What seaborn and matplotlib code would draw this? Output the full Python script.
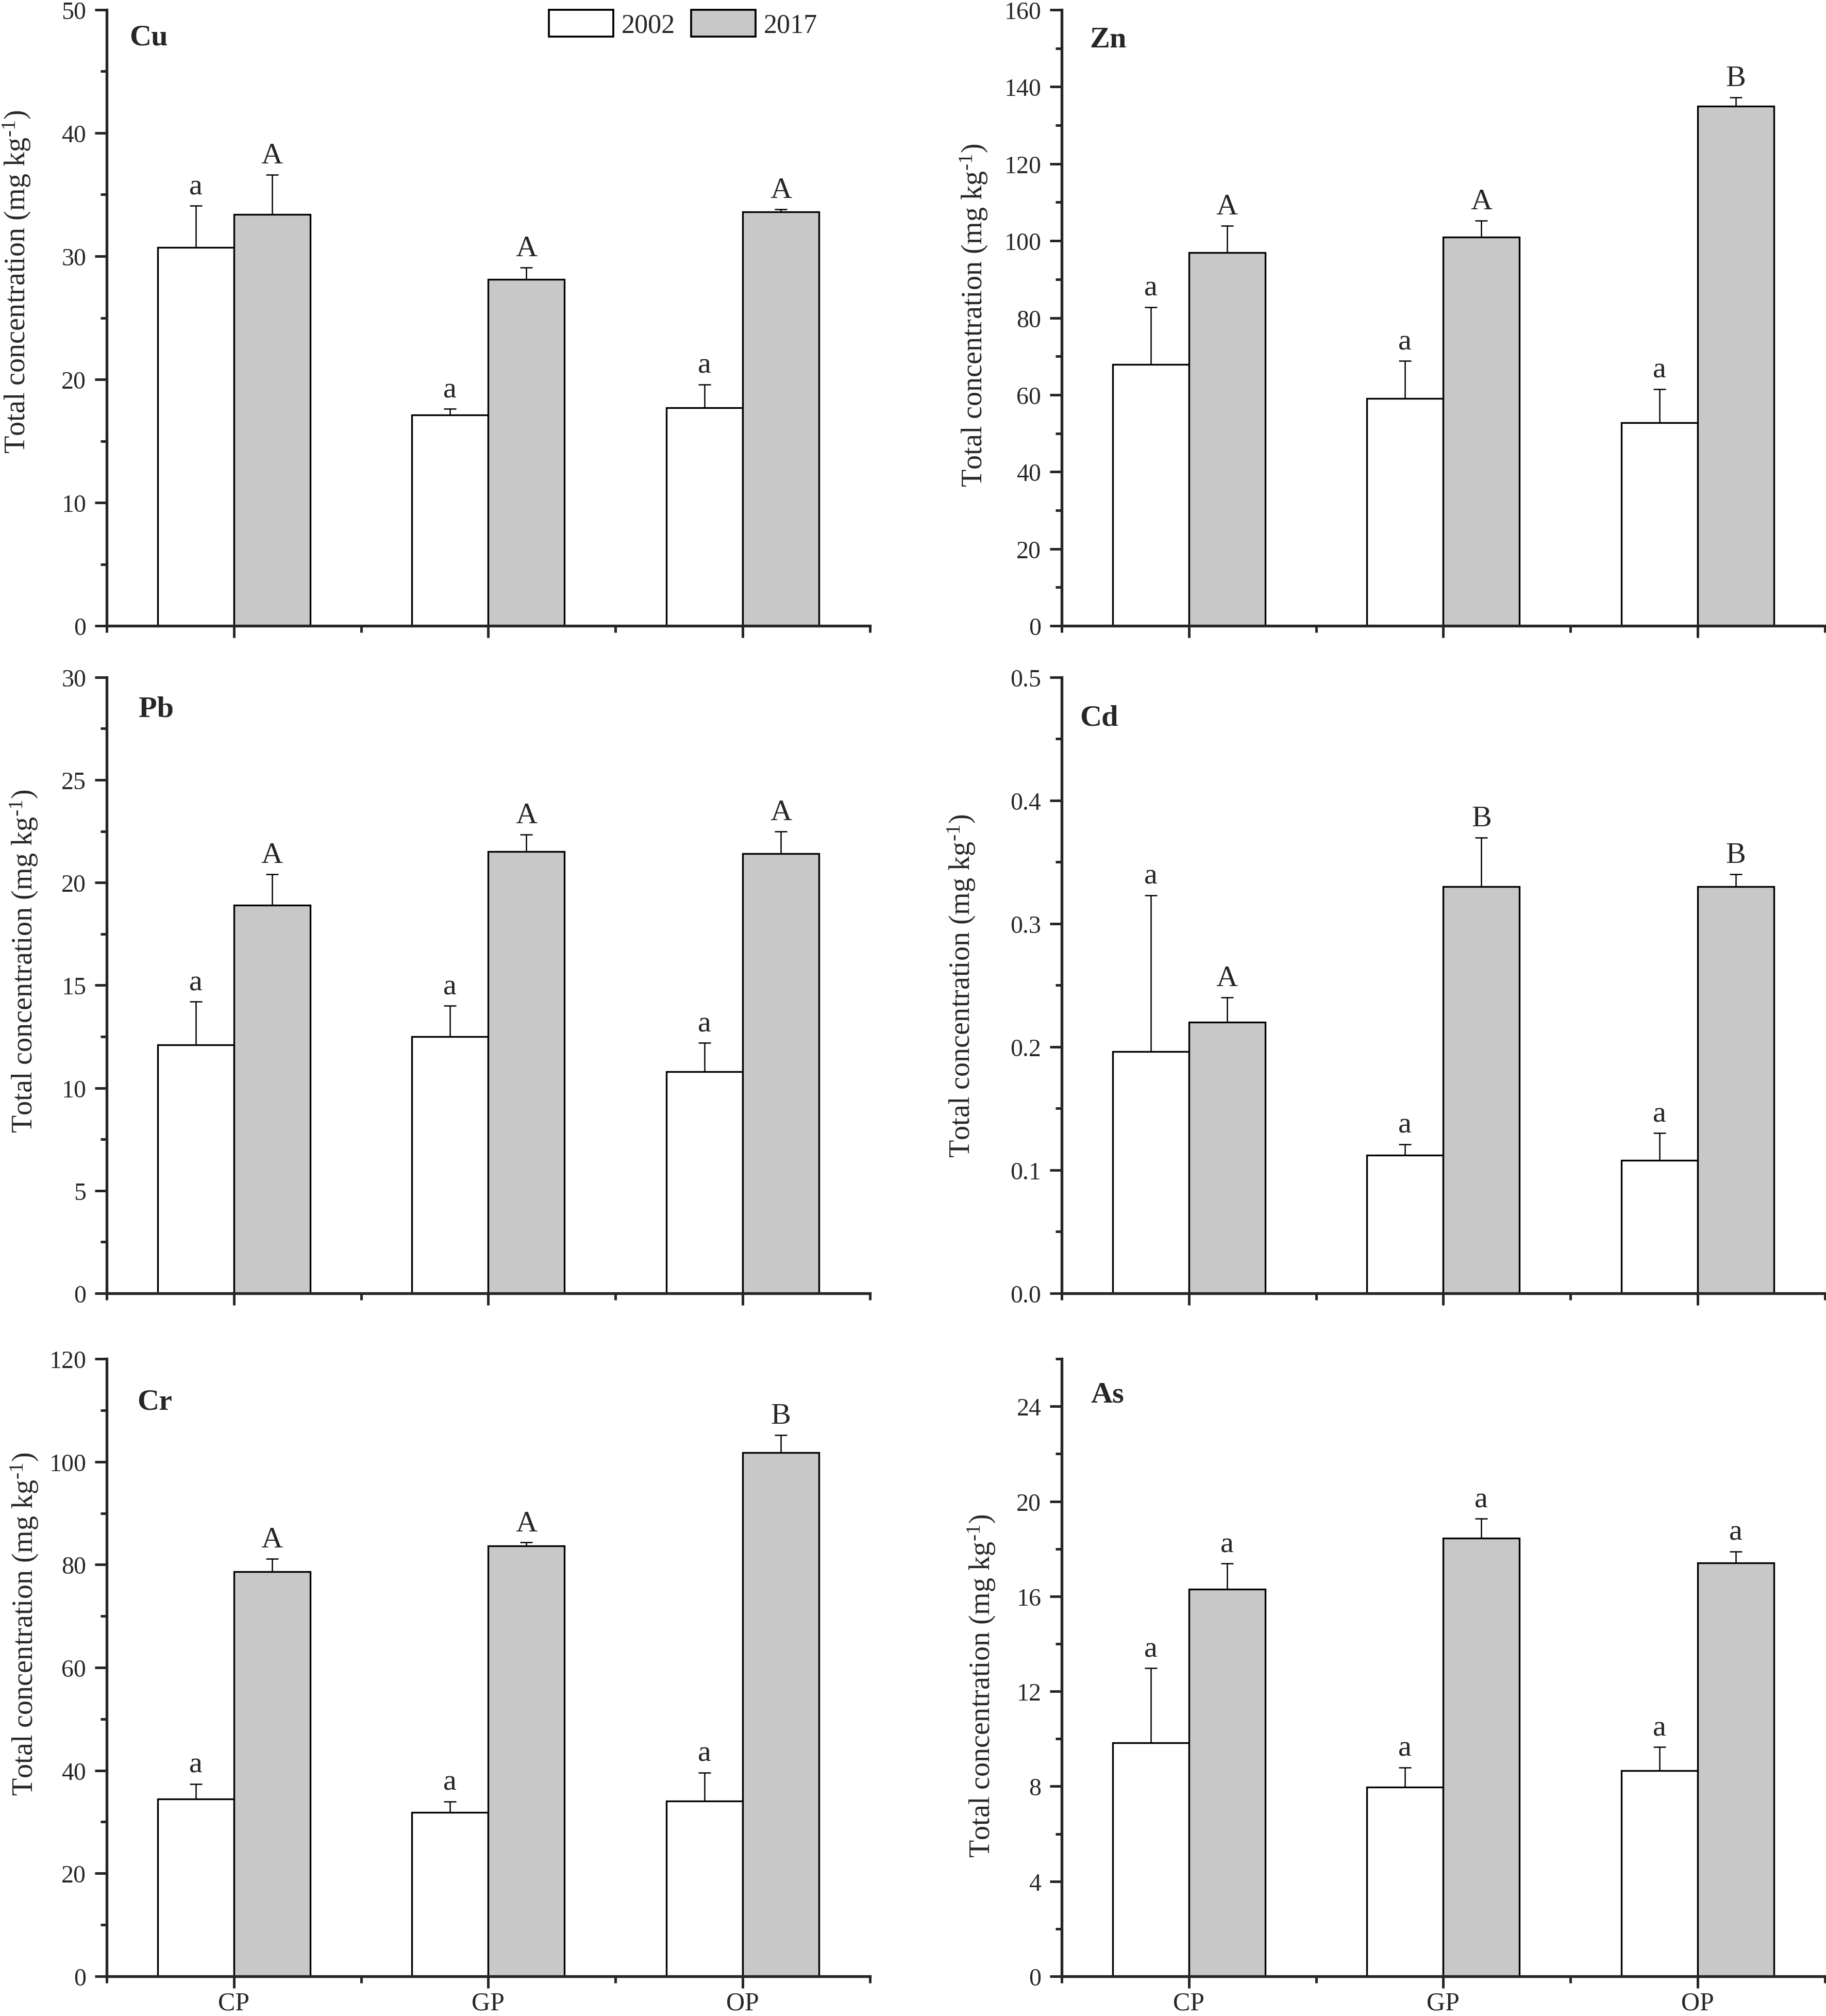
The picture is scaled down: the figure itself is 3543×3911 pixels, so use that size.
import numpy as np
import pandas as pd
import seaborn as sns
import matplotlib.pyplot as plt
from matplotlib.patches import Patch
from matplotlib.ticker import MultipleLocator, FixedLocator

# values (mean, upper error)
sites = ["CP", "GP", "OP"]
years = ["2002", "2017"]

cu_2002 = [30.7, 17.1, 17.7]
cu_2002_err = [3.4, 0.5, 1.9]
cu_2017 = [33.4, 28.1, 33.6]
cu_2017_err = [3.2, 1.0, 0.2]

zn_2002 = [67.9, 59.1, 52.8]
zn_2002_err = [14.9, 9.7, 8.7]
zn_2017 = [97.0, 100.9, 134.9]
zn_2017_err = [6.9, 4.3, 2.4]

pb_2002 = [12.1, 12.5, 10.8]
pb_2002_err = [2.1, 1.5, 1.4]
pb_2017 = [18.9, 21.5, 21.4]
pb_2017_err = [1.5, 0.85, 1.1]

cd_2002 = [0.196, 0.112, 0.108]
cd_2002_err = [0.127, 0.009, 0.022]
cd_2017 = [0.22, 0.33, 0.33]
cd_2017_err = [0.02, 0.04, 0.01]

cr_2002 = [34.5, 31.9, 34.1]
cr_2002_err = [2.9, 2.1, 5.5]
cr_2017 = [78.6, 83.6, 101.8]
cr_2017_err = [2.5, 0.7, 3.4]

as_2002 = [9.84, 7.97, 8.65]
as_2002_err = [3.13, 0.83, 1.0]
as_2017 = [16.3, 18.44, 17.4]
as_2017_err = [1.08, 0.83, 0.49]

letters = {
    "Cu": (["a", "a", "a"], ["A", "A", "A"]),
    "Zn": (["a", "a", "a"], ["A", "A", "B"]),
    "Pb": (["a", "a", "a"], ["A", "A", "A"]),
    "Cd": (["a", "a", "a"], ["A", "B", "B"]),
    "Cr": (["a", "a", "a"], ["A", "A", "B"]),
    "As": (["a", "a", "a"], ["a", "a", "a"]),
}

panels = [
    ("Cu", cu_2002, cu_2002_err, cu_2017, cu_2017_err),
    ("Zn", zn_2002, zn_2002_err, zn_2017, zn_2017_err),
    ("Pb", pb_2002, pb_2002_err, pb_2017, pb_2017_err),
    ("Cd", cd_2002, cd_2002_err, cd_2017, cd_2017_err),
    ("Cr", cr_2002, cr_2002_err, cr_2017, cr_2017_err),
    ("As", as_2002, as_2002_err, as_2017, as_2017_err),
]

# axis setup: (ymax, major step, minor step, decimals)
yaxes = {
    "Cu": (50, 10, 5, 0),
    "Zn": (160, 20, 10, 0),
    "Pb": (30, 5, 2.5, 0),
    "Cd": (0.5, 0.1, 0.05, 1),
    "Cr": (120, 20, 10, 0),
    "As": (26, 4, 2, 0),
}

# layout (figure fractions / axes fractions)
col_x = [0.0584, 0.5814]
col_w = 0.418
row_y = [0.6894, 0.3584, 0.0197]
row_h = [0.3055, 0.3055, 0.3062]
name_pos = {"Cu": (0.030, 0.977), "Zn": (0.037, 0.973), "Pb": (0.042, 0.970),
            "Cd": (0.024, 0.956), "Cr": (0.040, 0.952), "As": (0.038, 0.964)}
ylab_pos = {"Cu": (-0.097, 0.559), "Zn": (-0.0945, 0.505), "Pb": (-0.088, 0.54),
            "Cd": (-0.111, 0.50), "Cr": (-0.087, 0.571), "As": (-0.084, 0.471)}

sns.set_style("ticks")
plt.rcParams["font.family"] = ["Liberation Serif", "DejaVu Serif"]
plt.rcParams["mathtext.fontset"] = "custom"
plt.rcParams["mathtext.rm"] = "Liberation Serif"
plt.rcParams["mathtext.it"] = "Liberation Serif:italic"

colors = {"2002": "white", "2017": "#c8c8c8"}

fig = plt.figure(figsize=(3543 / 300, 3912 / 300), dpi=300)

for k, (name, v02, e02, v17, e17) in enumerate(panels):
    row, col = divmod(k, 2)
    ax = fig.add_axes([col_x[col], row_y[row], col_w, row_h[row]])

    df = pd.DataFrame({
        "site": sites * 2,
        "year": ["2002"] * 3 + ["2017"] * 3,
        "value": v02 + v17,
    })
    sns.barplot(data=df, x="site", y="value", hue="year", order=sites,
                hue_order=years, palette=colors, saturation=1, width=0.6,
                edgecolor="black", linewidth=0.8, errorbar=None,
                legend=False, ax=ax)

    errs = [e02, e17]
    labs = letters[name]
    bar_conts = list(ax.containers)
    for i, cont in enumerate(bar_conts):
        xs = [b.get_x() + b.get_width() / 2 for b in cont.patches]
        hs = [b.get_height() for b in cont.patches]
        ax.errorbar(xs, hs, yerr=[np.zeros(3), errs[i]], fmt="none",
                    ecolor="black", elinewidth=0.6, capsize=2.8,
                    capthick=0.6, zorder=3)
        for x, h, e, t in zip(xs, hs, errs[i], labs[i]):
            ax.annotate(t, (x, h + e), xytext=(0, 5.5),
                        textcoords="offset points", ha="center",
                        va="baseline", fontsize=14)

    ymax, major, minor, dec = yaxes[name]
    ax.set_ylim(0, ymax)
    ax.set_xlim(-0.5, 2.5)
    ax.yaxis.set_major_locator(MultipleLocator(major))
    ax.yaxis.set_minor_locator(MultipleLocator(minor))
    ax.yaxis.set_major_formatter(f"{{x:.{dec}f}}")
    ax.xaxis.set_minor_locator(FixedLocator([-0.5, 0.5, 1.5, 2.5]))

    sns.despine(ax=ax)
    for s in ["left", "bottom"]:
        ax.spines[s].set_linewidth(1.3)
    ax.tick_params(which="major", direction="out", length=5.5, width=1.2,
                   labelsize=11.5, pad=4)
    ax.tick_params(which="minor", direction="out", length=3, width=1.2)
    ax.tick_params(axis="x", labelsize=12, pad=1.5)
    if row < 2:
        ax.tick_params(axis="x", labelbottom=False)

    ax.set_xlabel("")
    ax.set_ylabel(r"Total concentration (mg kg$^{\text{-1}}$)", fontsize=13.5)
    ax.yaxis.set_label_coords(*ylab_pos[name])

    nx, ny = name_pos[name]
    ax.text(nx, ny, name, transform=ax.transAxes, fontsize=14,
            fontweight="bold", ha="left", va="top")

    if name == "Cu":
        handles = [Patch(facecolor=colors[y], edgecolor="black", linewidth=0.9,
                         label=y) for y in years]
        ax.legend(handles=handles, loc="upper right", bbox_to_anchor=(0.931, 1.0),
                  ncol=2, frameon=False, fontsize=12.5, borderpad=0,
                  handlelength=2.4, handleheight=1.15, handletextpad=0.3,
                  columnspacing=0.6, borderaxespad=0)

fig.savefig("out.png", dpi=300)
